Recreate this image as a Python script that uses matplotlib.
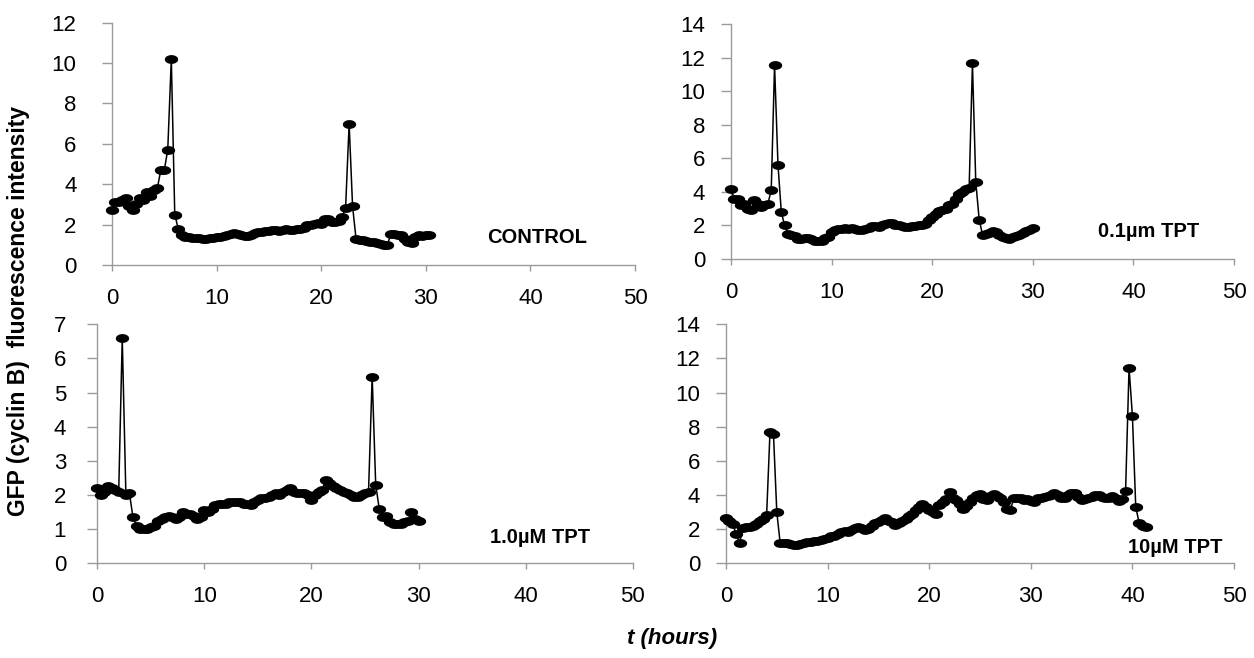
import numpy as np
import matplotlib
matplotlib.use("Agg")
import matplotlib.pyplot as plt

plt.rcParams["font.family"] = ["Liberation Sans", "DejaVu Sans"]

# Time-lapse frames (hours), shared by all four recordings
hours = [
    0, 0.33, 0.67, 1, 1.33, 1.67, 2, 2.33, 2.67, 3, 3.33, 3.67,
    4, 4.33, 4.67, 5, 5.33, 5.67, 6, 6.33, 6.67, 7, 7.33, 7.67,
    8, 8.33, 8.67, 9, 9.33, 9.67, 10, 10.33, 10.67, 11, 11.33, 11.67,
    12, 12.33, 12.67, 13, 13.33, 13.67, 14, 14.33, 14.67, 15, 15.33, 15.67,
    16, 16.33, 16.67, 17, 17.33, 17.67, 18, 18.33, 18.67, 19, 19.33, 19.67,
    20, 20.33, 20.67, 21, 21.33, 21.67, 22, 22.33, 22.67, 23, 23.33, 23.67,
    24, 24.33, 24.67, 25, 25.33, 25.67, 26, 26.33, 26.67, 27, 27.33, 27.67,
    28, 28.33, 28.67, 29, 29.33, 29.67, 30, 30.33, 30.67, 31, 31.33, 31.67,
    32, 32.33, 32.67, 33, 33.33, 33.67, 34, 34.33, 34.67, 35, 35.33, 35.67,
    36, 36.33, 36.67, 37, 37.33, 37.67, 38, 38.33, 38.67, 39, 39.33, 39.67,
    40, 40.33, 40.67, 41, 41.33,
]

# GFP (cyclin B) fluorescence, one list per treatment
gfp_control = [
    2.7, 3.1, 3.1, 3.2, 3.3, 2.9, 2.7, 3.0, 3.3, 3.2, 3.6, 3.4,
    3.7, 3.8, 4.7, 4.7, 5.7, 10.2, 2.5, 1.8, 1.5, 1.4, 1.4, 1.35,
    1.35, 1.35, 1.3, 1.3, 1.35, 1.35, 1.4, 1.4, 1.45, 1.5, 1.55, 1.6,
    1.55, 1.5, 1.45, 1.45, 1.5, 1.6, 1.65, 1.65, 1.7, 1.7, 1.75, 1.75,
    1.7, 1.75, 1.8, 1.75, 1.75, 1.8, 1.8, 1.85, 2.0, 2.0, 2.05, 2.1,
    2.05, 2.3, 2.3, 2.15, 2.15, 2.2, 2.4, 2.8, 7.0, 2.9, 1.3, 1.25,
    1.25, 1.2, 1.15, 1.15, 1.1, 1.05, 1.0, 1.0, 1.55, 1.55, 1.5, 1.5,
    1.3, 1.15, 1.1, 1.4, 1.5, 1.45, 1.5, 1.5,
]

gfp_tpt_01 = [
    4.15, 3.6, 3.55, 3.2, 3.3, 3.0, 2.9, 3.5, 3.3, 3.1, 3.2, 3.3,
    4.1, 11.55, 5.6, 2.8, 2.0, 1.5, 1.45, 1.4, 1.2, 1.2, 1.25, 1.25,
    1.2, 1.1, 1.05, 1.1, 1.25, 1.3, 1.6, 1.75, 1.8, 1.8, 1.85, 1.8,
    1.85, 1.8, 1.75, 1.75, 1.8, 1.85, 1.95, 1.95, 1.9, 2.0, 2.1, 2.15,
    2.15, 2.05, 2.0, 1.95, 1.9, 1.9, 1.95, 1.95, 2.0, 2.0, 2.1, 2.3,
    2.5, 2.7, 2.85, 2.9, 3.0, 3.2, 3.3, 3.6, 3.9, 4.0, 4.15, 4.2,
    11.65, 4.6, 2.35, 1.45, 1.5, 1.55, 1.65, 1.6, 1.45, 1.3, 1.25, 1.2,
    1.3, 1.35, 1.45, 1.55, 1.65, 1.75, 1.85,
]

gfp_tpt_1 = [
    2.2, 2.0, 2.1, 2.25, 2.2, 2.15, 2.1, 6.6, 2.0, 2.05, 1.35, 1.1,
    1.0, 1.0, 1.0, 1.05, 1.1, 1.25, 1.3, 1.35, 1.4, 1.35, 1.3, 1.35,
    1.5, 1.45, 1.45, 1.4, 1.3, 1.35, 1.55, 1.5, 1.6, 1.7, 1.75, 1.75,
    1.75, 1.8, 1.8, 1.8, 1.8, 1.75, 1.75, 1.7, 1.8, 1.85, 1.9, 1.9,
    1.95, 2.0, 2.05, 2.0, 2.1, 2.15, 2.2, 2.1, 2.05, 2.05, 2.05, 2.0,
    1.85, 2.0, 2.1, 2.15, 2.45, 2.35, 2.25, 2.2, 2.15, 2.1, 2.05, 2.0,
    1.95, 1.95, 2.0, 2.05, 2.1, 5.47, 2.3, 1.6, 1.35, 1.4, 1.2, 1.15,
    1.15, 1.15, 1.2, 1.25, 1.5, 1.3, 1.25,
]

gfp_tpt_10 = [
    2.65, 2.5, 2.3, 1.7, 1.2, 2.05, 2.1, 2.15, 2.2, 2.3, 2.45, 2.6,
    2.85, 7.7, 7.6, 3.0, 1.2, 1.2, 1.2, 1.15, 1.05, 1.1, 1.15, 1.2,
    1.25, 1.25, 1.3, 1.3, 1.35, 1.4, 1.5, 1.6, 1.6, 1.7, 1.85, 1.9,
    1.85, 1.95, 2.05, 2.1, 2.05, 1.95, 2.0, 2.2, 2.35, 2.4, 2.55, 2.65,
    2.5, 2.4, 2.25, 2.35, 2.5, 2.6, 2.75, 2.9, 3.1, 3.3, 3.45, 3.3,
    3.15, 3.0, 2.9, 3.4, 3.6, 3.75, 4.2, 3.8, 3.7, 3.5, 3.2, 3.35,
    3.6, 3.8, 4.0, 4.05, 3.75, 3.7, 3.95, 4.05, 3.95, 3.8, 3.6, 3.2,
    3.15, 3.8, 3.85, 3.8, 3.7, 3.75, 3.65, 3.6, 3.8, 3.85, 3.9, 3.95,
    4.0, 4.1, 4.0, 3.85, 3.8, 4.0, 4.1, 4.1, 3.9, 3.7, 3.75, 3.85,
    3.9, 4.0, 4.0, 3.9, 3.8, 3.85, 3.95, 3.8, 3.65, 3.75, 4.25, 11.45,
    8.65, 3.3, 2.35, 2.2, 2.1,
]

panel_labels = ["CONTROL", "0.1\u00b5m TPT", "1.0\u00b5M TPT", "10\u00b5M TPT"]
x_ticks = [0, 10, 20, 30, 40, 50]
y_ticks_control = [0, 2, 4, 6, 8, 10, 12]
y_ticks_01 = [0, 2, 4, 6, 8, 10, 12, 14]
y_ticks_1 = [0, 1, 2, 3, 4, 5, 6, 7]
y_ticks_10 = [0, 2, 4, 6, 8, 10, 12, 14]

W, H = 1254, 658
fig = plt.figure(figsize=(W / 100, H / 100), dpi=100)


def px_axes(x0, x1, ytop, ybot):
    return fig.add_axes([x0 / W, 1 - ybot / H, (x1 - x0) / W, (ybot - ytop) / H])


# oval marker, wider than tall
theta = np.linspace(0, 2 * np.pi, 41)
oval = np.column_stack([np.cos(theta), 0.62 * np.sin(theta)])

spine_gray = "#9a9a9a"

panels = [
    # axes box in pixels, data, y ticks, label position (x, baseline y), y tick pad
    (px_axes(112, 635, 22.7, 265), gfp_control, y_ticks_control, (35.9, 1.09), 18),
    (px_axes(731, 1234, 24, 259), gfp_tpt_01, y_ticks_01, (36.5, 1.31), 11),
    (px_axes(97.3, 632.7, 324.3, 563.3), gfp_tpt_1, y_ticks_1, (36.7, 0.6), 15),
    (px_axes(726, 1234, 324.3, 563.3), gfp_tpt_10, y_ticks_10, (39.6, 0.6), 11),
]

for (ax, values, yticks, (lx, ly), ypad), label in zip(panels, panel_labels):
    t = hours[:len(values)]
    ax.plot(t, values, color="black", lw=1.1, marker=oval, markersize=8.6,
            markerfacecolor="black", markeredgecolor="black", clip_on=False,
            zorder=3)
    ax.set_xlim(0, 50)
    ax.set_ylim(yticks[0], yticks[-1])
    ax.set_xticks(x_ticks)
    ax.set_yticks(yticks)
    for side in ("top", "right"):
        ax.spines[side].set_visible(False)
    for side in ("left", "bottom"):
        ax.spines[side].set_color(spine_gray)
        ax.spines[side].set_linewidth(1.0)
    ax.tick_params(axis="y", direction="out", length=7.5, width=1.0,
                   color=spine_gray, labelsize=16, pad=ypad, labelcolor="black")
    ax.tick_params(axis="x", direction="out", length=4.3, width=1.0,
                   color=spine_gray, labelsize=16, pad=12, labelcolor="black")
    ax.patch.set_alpha(0)
    ax.text(lx, ly, label, fontsize=14.5, fontweight="bold", ha="left",
            va="baseline")

fig.text(0.0150, 0.527, "GFP (cyclin B)  fluorescence intensity", rotation=90,
         fontsize=16.5, fontweight="bold", ha="center", va="center")
fig.text(0.536, 0.030, "t (hours)", fontsize=16, fontweight="bold",
         fontstyle="italic", ha="center", va="center")

fig.savefig("out.png", dpi=100, facecolor="white")
